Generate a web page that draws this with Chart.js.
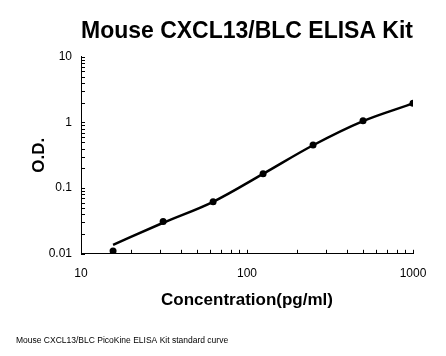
<!DOCTYPE html>
<html>
<head>
<meta charset="utf-8">
<script src="https://cdn.jsdelivr.net/npm/chart.js@4"></script>
<style>
  html, body { margin: 0; padding: 0; background: #ffffff; }
  #wrap { width: 446px; height: 356px; }
</style>
</head>
<body>
<div id="wrap"><canvas id="c" width="446" height="356"></canvas></div>
<script>
// ---- data ----
const concentrations = [15.6, 31.25, 62.5, 125, 250, 500, 1000];
const odMeasured     = [0.011, 0.031, 0.062, 0.165, 0.452, 1.06, 1.97];
const odFitted       = [0.0137, 0.0297, 0.062, 0.165, 0.45, 1.05, 1.95];

const xTickValues = [10, 20, 30, 40, 50, 60, 70, 80, 90, 100, 200, 300, 400, 500, 600, 700, 800, 900, 1000];
const yTickValues = [0.01, 0.02, 0.03, 0.04, 0.05, 0.06, 0.07, 0.08, 0.09,
                     0.1, 0.2, 0.3, 0.4, 0.5, 0.6, 0.7, 0.8, 0.9,
                     1, 2, 3, 4, 5, 6, 7, 8, 9, 10];
const xMajorLabels = { 10: '10', 100: '100', 1000: '1000' };
const yMajorLabels = { 0.01: '0.01', 0.1: '0.1', 1: '1', 10: '10' };

const titleText = 'Mouse CXCL13/BLC ELISA Kit';
const xTitle = 'Concentration(pg/ml)';
const yTitle = 'O.D.';
const footnote = 'Mouse CXCL13/BLC PicoKine ELISA Kit standard curve';

const FONT = "'Liberation Sans', Arial, sans-serif";

// tick marks drawn inside the plot area from the scales' own ticks
const innerTicks = {
  id: 'innerTicks',
  afterDatasetsDraw(chart) {
    const ctx = chart.ctx;
    const xs = chart.scales.x, ys = chart.scales.y;
    const a = chart.chartArea;
    ctx.save();
    ctx.strokeStyle = '#000';
    ctx.lineWidth = 1;
    ctx.beginPath();
    xs.ticks.forEach(t => {
      const px = Math.round(xs.getPixelForValue(t.value)) + 0.5;
      ctx.moveTo(px, a.bottom);
      ctx.lineTo(px, a.bottom - 4);
    });
    ys.ticks.forEach(t => {
      const py = Math.round(ys.getPixelForValue(t.value)) + 0.5;
      ctx.moveTo(a.left, py);
      ctx.lineTo(a.left + 4, py);
    });
    ctx.stroke();
    ctx.restore();
  }
};

new Chart(document.getElementById('c'), {
  type: 'scatter',
  data: {
    datasets: [
      {
        label: 'fit',
        data: concentrations.map((x, i) => ({ x: x, y: odFitted[i] })),
        showLine: true,
        borderColor: '#000',
        borderWidth: 2.5,
        pointRadius: 0,
        cubicInterpolationMode: 'monotone',
        fill: false
      },
      {
        label: 'standards',
        data: concentrations.map((x, i) => ({ x: x, y: odMeasured[i] })),
        showLine: false,
        pointRadius: 3.5,
        pointBackgroundColor: '#000',
        pointBorderColor: '#000',
        pointBorderWidth: 0
      }
    ]
  },
  options: {
    responsive: false,
    animation: false,
    devicePixelRatio: 1,
    layout: { padding: { left: 16, right: 33, top: 0, bottom: 0 } },
    plugins: {
      legend: { display: false },
      tooltip: { enabled: false },
      title: {
        display: true,
        text: titleText,
        fullSize: false,
        color: '#000',
        font: { family: FONT, size: 24, weight: 'bold' },
        padding: { top: 17, bottom: 11 }
      },
      subtitle: {
        display: true,
        text: footnote,
        position: 'bottom',
        align: 'start',
        color: '#000',
        font: { family: FONT, size: 8.5 },
        padding: { top: 22, bottom: 10 }
      }
    },
    scales: {
      x: {
        type: 'logarithmic',
        min: 10,
        max: 1000,
        afterBuildTicks(scale) { scale.ticks = xTickValues.map(v => ({ value: v })); },
        afterFit(scale) { scale.height = 60; },
        grid: { display: false, drawTicks: false },
        border: { display: true, color: '#000', width: 1 },
        ticks: {
          autoSkip: false,
          maxRotation: 0,
          padding: 13,
          color: '#000',
          font: { family: FONT, size: 12 },
          callback: (v) => xMajorLabels[v] || ''
        },
        title: {
          display: true,
          text: xTitle,
          color: '#000',
          font: { family: FONT, size: 17, weight: 'bold' },
          padding: { top: 0, bottom: 3 }
        }
      },
      y: {
        type: 'logarithmic',
        min: 0.01,
        max: 10,
        afterBuildTicks(scale) { scale.ticks = yTickValues.map(v => ({ value: v })); },
        afterFit(scale) { scale.width = 65; },
        grid: { display: false, drawTicks: false },
        border: { display: true, color: '#000', width: 1 },
        ticks: {
          autoSkip: false,
          padding: 9,
          color: '#000',
          font: { family: FONT, size: 12 },
          callback: (v) => yMajorLabels[v] || ''
        },
        title: {
          display: true,
          text: yTitle,
          color: '#000',
          font: { family: FONT, size: 17, weight: 'bold' },
          padding: { top: 13, bottom: 0 }
        }
      }
    }
  },
  plugins: [innerTicks]
});
</script>
</body>
</html>
